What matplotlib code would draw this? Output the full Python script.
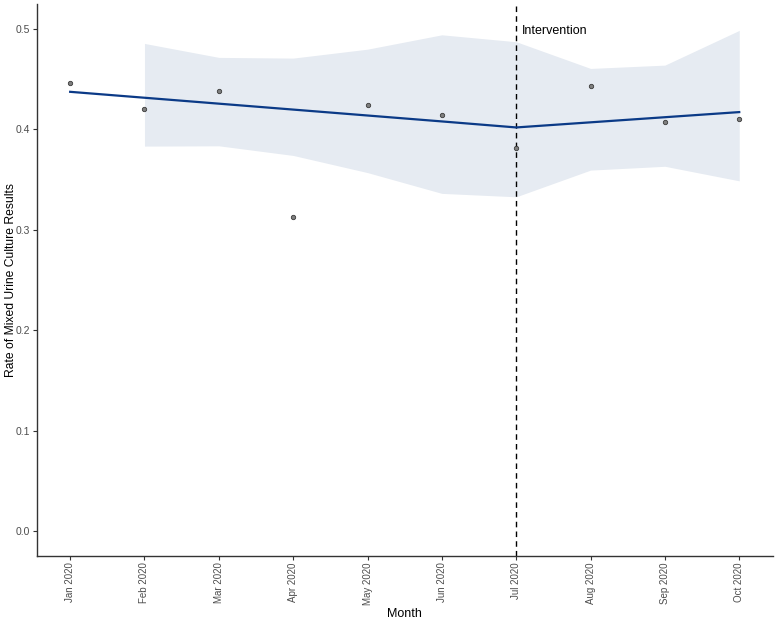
import matplotlib
matplotlib.use("Agg")
import matplotlib.pyplot as plt
import numpy as np

plt.rcParams['font.family'] = ['Liberation Sans', 'DejaVu Sans']

months = ["Jan 2020", "Feb 2020", "Mar 2020", "Apr 2020", "May 2020",
          "Jun 2020", "Jul 2020", "Aug 2020", "Sep 2020", "Oct 2020"]
observed = [0.4465, 0.4206, 0.4385, 0.3123, 0.4240,
            0.4140, 0.3817, 0.4435, 0.4073, 0.4100]
trend = [0.4375, 0.4316, 0.4257, 0.4198, 0.4139,
         0.4080, 0.4020, 0.4071, 0.4122, 0.4173]
ribbon_months = ["Feb 2020", "Mar 2020", "Apr 2020", "May 2020", "Jun 2020",
                 "Jul 2020", "Aug 2020", "Sep 2020", "Oct 2020"]
ribbon_upper = [0.4857, 0.4718, 0.4711, 0.4800, 0.4943,
                0.4874, 0.4608, 0.4641, 0.4987]
ribbon_lower = [0.3834, 0.3837, 0.3741, 0.3570, 0.3363,
                0.3329, 0.3595, 0.3633, 0.3488]
intervention_month = "Jul 2020"
yticks = [0.0, 0.1, 0.2, 0.3, 0.4, 0.5]

x = np.arange(len(months))
rx = np.array([months.index(m) for m in ribbon_months])
xi = months.index(intervention_month)

fig = plt.figure(figsize=(7.78, 6.2), dpi=100)
ax = fig.add_axes([36.7/778, 1 - 556/620, (772.7-36.7)/778, (556-4)/620])

ax.fill_between(rx, ribbon_lower, ribbon_upper, color="#e6ebf2", lw=0, zorder=1)
ax.plot(x, trend, color="#0b3a87", lw=1.6, zorder=3)
ax.scatter(x, observed, s=10, color="#7f7f7f", edgecolor="#3a3a3a", linewidths=0.6, zorder=4)
ax.axvline(xi, color="black", ls=(0, (4, 3)), lw=1.0, zorder=2)
ax.text(xi + 0.08, 0.4985, "Intervention", fontsize=9, color="black",
        va="center", ha="left")

ax.set_xlim(-0.45, len(months) - 1 + 0.45)
ax.set_ylim(-0.025, 0.525)
ax.set_xticks(x)
ax.set_xticklabels(months, rotation=90, fontsize=7, color="#4d4d4d")
ax.set_yticks(yticks)
ax.set_yticklabels([f"{v:.1f}" for v in yticks], fontsize=7.5, color="#4d4d4d")
ax.tick_params(axis="both", length=3, width=0.8, color="#333333", pad=1.5)
for s in ["top", "right"]:
    ax.spines[s].set_visible(False)
for s in ["left", "bottom"]:
    ax.spines[s].set_linewidth(1.0)
    ax.spines[s].set_color("#333333")
ax.set_xlabel("Month", fontsize=9, labelpad=2)
ax.set_ylabel("Rate of Mixed Urine Culture Results", fontsize=8.7)
ax.yaxis.set_label_coords(-0.027, 0.5)

fig.savefig("out.png", dpi=100)
